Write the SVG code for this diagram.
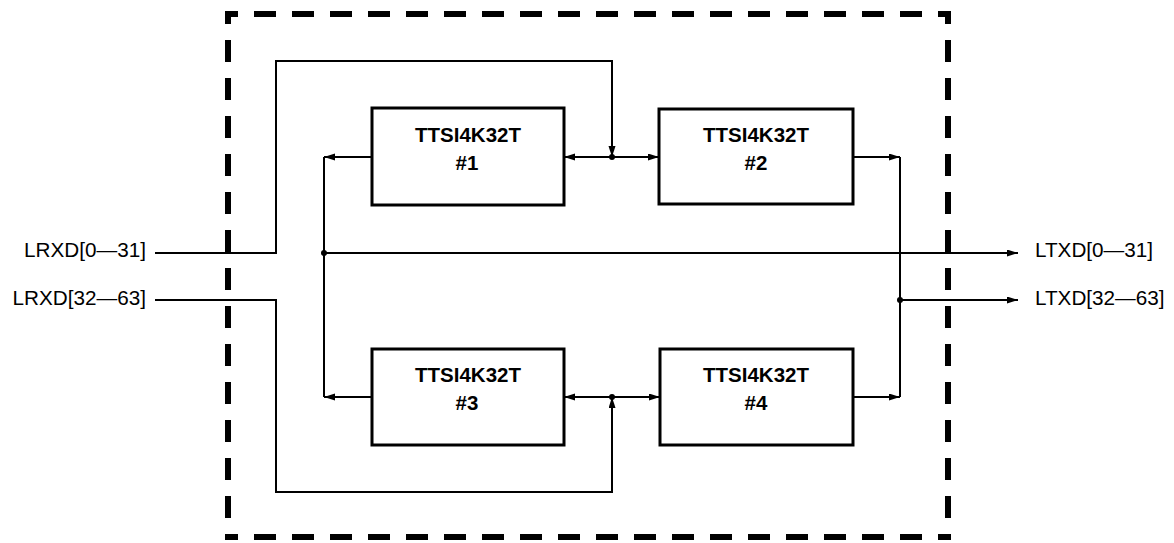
<svg xmlns="http://www.w3.org/2000/svg" width="1174" height="543" viewBox="0 0 1174 543">
<style>
.frame{fill:none;stroke:#000;stroke-width:6;stroke-dasharray:22 16;stroke-dashoffset:9}
.box{fill:#fff;stroke:#000;stroke-width:3}
.btxt{font-family:"Liberation Sans",Arial,sans-serif;font-weight:bold;font-size:20.5px;text-anchor:middle;fill:#000}
.lbl{font-family:"Liberation Sans",Arial,sans-serif;font-size:20.7px;fill:#000}
.wire{fill:none;stroke:#000;stroke-width:2}
.arr{marker-end:url(#ah)}
.arr2{marker-start:url(#ah);marker-end:url(#ah)}
</style>
<defs>
<marker id="ah" markerUnits="userSpaceOnUse" markerWidth="12" markerHeight="8" refX="11" refY="3.5" orient="auto-start-reverse">
<path d="M0,0 L11,3.5 L0,7 z" fill="#000"/>
</marker>
</defs>
<rect width="1174" height="543" fill="#fff"/>
<g id="frame">
<line class="frame" x1="225" y1="14" x2="951" y2="14"/>
<line class="frame" x1="225" y1="537" x2="951" y2="537"/>
<line class="frame" x1="228" y1="11" x2="228" y2="540"/>
<line class="frame" x1="948" y1="11" x2="948" y2="540"/>
</g>
<g id="connectors">
<path class="wire arr" d="M155,253 H276 V61 H612 V157"/>
<path class="wire arr" d="M155,300 H276 V492 H612 V397"/>
<path class="wire arr2" d="M564,157 H659"/>
<path class="wire arr2" d="M564,397 H660"/>
<path class="wire arr" d="M372,157 H324"/>
<path class="wire arr" d="M372,397 H324"/>
<path class="wire" d="M324,157 V397"/>
<path class="wire arr" d="M324,253 H1018"/>
<path class="wire arr" d="M853,157 H900"/>
<path class="wire arr" d="M853,397 H900"/>
<path class="wire" d="M900,157 V397"/>
<path class="wire arr" d="M900,300 H1018"/>
<circle cx="612" cy="157" r="3"/>
<circle cx="612" cy="397" r="3"/>
<circle cx="324" cy="253" r="3"/>
<circle cx="900" cy="300" r="3"/>
</g>
<g id="node1">
<rect class="box" x="372" y="108" width="192" height="97"/>
<text class="btxt" x="468" y="142">TTSI4K32T</text>
<text class="btxt" x="467" y="170">#1</text>
</g>
<g id="node2">
<rect class="box" x="659" y="109" width="194" height="95"/>
<text class="btxt" x="756" y="142">TTSI4K32T</text>
<text class="btxt" x="756" y="170">#2</text>
</g>
<g id="node3">
<rect class="box" x="372" y="349" width="192" height="96"/>
<text class="btxt" x="468" y="382">TTSI4K32T</text>
<text class="btxt" x="467" y="410">#3</text>
</g>
<g id="node4">
<rect class="box" x="660" y="349" width="193" height="96"/>
<text class="btxt" x="756" y="382">TTSI4K32T</text>
<text class="btxt" x="756" y="410">#4</text>
</g>
<g id="labels">
<text class="lbl" x="146" y="257" text-anchor="end">LRXD[0—31]</text>
<text class="lbl" x="146" y="305" text-anchor="end">LRXD[32—63]</text>
<text class="lbl" x="1035" y="257">LTXD[0—31]</text>
<text class="lbl" x="1035" y="305">LTXD[32—63]</text>
</g>
</svg>
